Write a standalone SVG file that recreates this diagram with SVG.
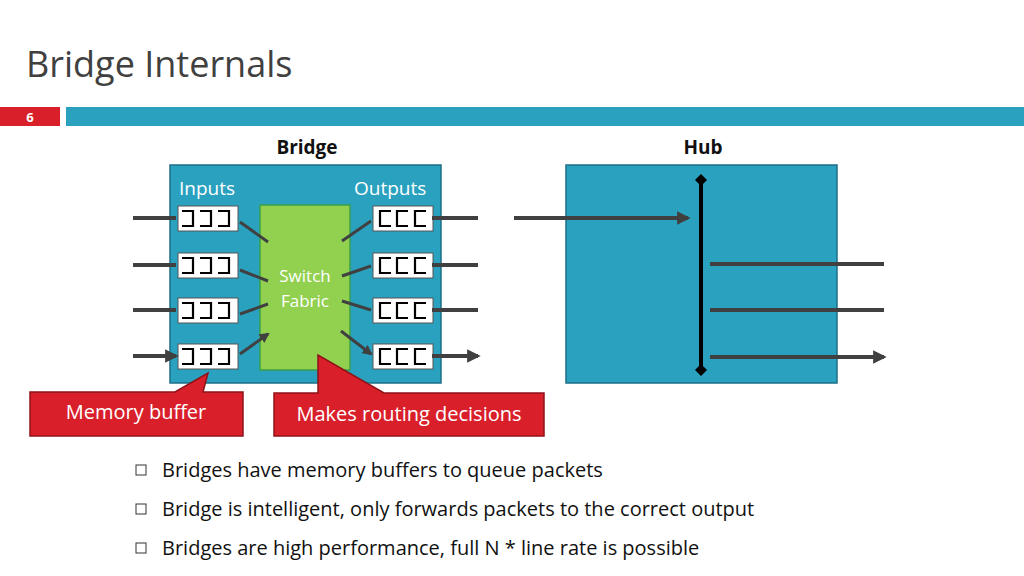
<svg xmlns="http://www.w3.org/2000/svg" width="1024" height="576" viewBox="0 0 1024 576">
<style>
text{font-family:"Open Sans","Liberation Sans",sans-serif}
.box{fill:#2aa1bf;stroke:#1d6f86;stroke-width:1.5}
.buf{fill:#fff;stroke:#555;stroke-width:1}
.br{fill:none;stroke:#000;stroke-width:2.2}
.ar{stroke:#404040;stroke-width:4;fill:none;marker-end:url(#ah)}
.ar2{stroke:#404040;stroke-width:3;fill:none;marker-end:url(#ah)}
.wt{fill:#fff;font-size:19px}
.call{fill:#d9202a;stroke:#8e1218;stroke-width:1.5}
.bul{font-size:20px;fill:#111}
</style>
<defs>
<marker id="ah" viewBox="0 0 10 10" refX="8" refY="5" markerWidth="3.4" markerHeight="3.4" orient="auto"><path d="M0,0L10,5L0,10z" fill="#404040"/></marker>
<marker id="dm" viewBox="0 0 10 10" refX="5" refY="5" markerWidth="3" markerHeight="3" orient="auto"><path d="M0,5L5,0L10,5L5,10z" fill="#000"/></marker>
<g id="ib"><rect class="buf" x="0" y="0" width="60" height="25"/><path class="br" d="M4,5h11v15h-11M22,5h11v15h-11M40,5h11v15h-11"/></g>
<g id="ob"><rect class="buf" x="0" y="0" width="60" height="25"/><path class="br" d="M18,5h-11v15h11M35,5h-11v15h11M53,5h-11v15h11"/></g>
</defs>
<rect width="1024" height="576" fill="#fff"/>
<text x="26" y="77" font-size="36" fill="#404040">Bridge Internals</text>
<rect x="0" y="107" width="60" height="19" fill="#d9202a"/>
<text x="30" y="122" font-size="13" font-weight="bold" fill="#fff" text-anchor="middle">6</text>
<rect x="66" y="107" width="958" height="19" fill="#2aa1bf"/>
<text x="307" y="154" font-size="19" font-weight="bold" text-anchor="middle" fill="#111">Bridge</text>
<text x="703" y="154" font-size="19" font-weight="bold" text-anchor="middle" fill="#111">Hub</text>
<g id="bridge">
<rect class="box" x="170" y="165" width="271" height="218"/>
<text class="wt" x="179" y="195">Inputs</text>
<text class="wt" x="354" y="195">Outputs</text>
</g>
<g id="fabric"><rect x="260" y="205" width="90" height="165" fill="#92d050" stroke="#3aa04a" stroke-width="1.5"/>
<text x="305" y="282" font-size="17" fill="#fff" text-anchor="middle">Switch</text>
<text x="305" y="307" font-size="17" fill="#fff" text-anchor="middle">Fabric</text></g>
<g id="inbufs"><use href="#ib" x="178" y="206"/><use href="#ib" x="178" y="253"/><use href="#ib" x="178" y="298"/><use href="#ib" x="178" y="344"/></g>
<g id="outbufs"><use href="#ob" x="373" y="206"/><use href="#ob" x="373" y="253"/><use href="#ob" x="373" y="298"/><use href="#ob" x="373" y="344"/></g>
<g id="hub"><rect class="box" x="566" y="165" width="271" height="218"/></g>
<g id="connectors">
<path class="ar" d="M133,218H176M133,265H176M133,310H176M133,356H176"/>
<path class="ar" d="M432,218H478M432,265H478M432,310H478M432,356H478"/>
<path class="ar2" d="M240,222L268,242M240,270L268,281M240,314L268,304M240,354L268,334"/>
<path class="ar2" d="M342,241L371,221M342,276L371,266M342,301L371,310M341,331L371,354"/>
<path class="ar" d="M514,218H688"/>
<path class="ar" d="M710,264H884M710,310H884M710,357H884"/>
<path d="M701,180V370" stroke="#000" stroke-width="4" marker-start="url(#dm)" marker-end="url(#dm)"/>
</g>
<g id="callout1"><path class="call" d="M30,392H175L208,373L203,392H243V436H30Z"/>
<text x="136" y="419" font-size="20" fill="#fff" text-anchor="middle">Memory buffer</text></g>
<g id="callout2"><path class="call" d="M274,393H318V355L384,393H544V436H274Z"/>
<text x="409" y="421" font-size="20" fill="#fff" text-anchor="middle">Makes routing decisions</text></g>
<g id="bullets" fill="none" stroke="#333" stroke-width="1">
<rect x="136" y="465" width="10" height="10"/><rect x="136" y="504" width="10" height="10"/><rect x="136" y="543" width="10" height="10"/></g>
<text class="bul" x="162" y="477">Bridges have memory buffers to queue packets</text>
<text class="bul" x="162" y="516">Bridge is intelligent, only forwards packets to the correct output</text>
<text class="bul" x="162" y="555">Bridges are high performance, full N * line rate is possible</text>
</svg>
